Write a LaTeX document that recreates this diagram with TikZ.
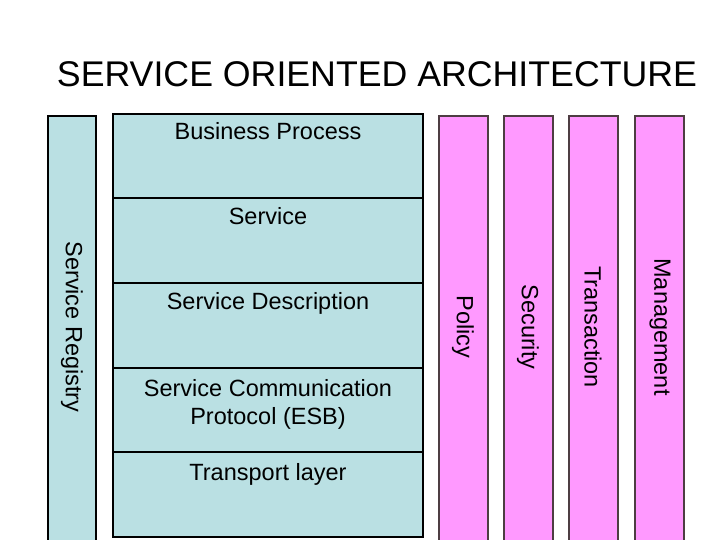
\documentclass[tikz,border=0pt]{standalone}
\usepackage{fontspec}
\setmainfont{Liberation Sans}
\definecolor{soablue}{RGB}{186,224,227}
\definecolor{soapink}{RGB}{255,153,255}

\begin{document}
\begin{tikzpicture}[x=1pt,y=-1pt,
  layer/.style={fill=soablue,draw=black,line width=1.2pt},
  side/.style={fill=soapink,draw=black!80!magenta,line width=1.2pt},
  lbl/.style={font=\fontsize{23.5}{28}\selectfont,align=center,inner sep=0pt},
  vlbl/.style={font=\fontsize{23.5}{28}\selectfont,rotate=-90,inner sep=0pt}]
  \useasboundingbox (0,0) rectangle (720,540);
  \clip (0,0) rectangle (720,540);

  % Title
  \node[font=\fontsize{35.7}{40}\selectfont,anchor=base,inner sep=0pt] (title) at (377,87) {SERVICE ORIENTED ARCHITECTURE};

  % Service registry column
  \draw[layer] (48,116) rectangle (96,560);
  \node[vlbl] (reg) at (72,327) {Service Registry};

  % Layer stack
  \draw[layer] (113,114) rectangle (423,198);
  \draw[layer] (113,198) rectangle (423,283);
  \draw[layer] (113,283) rectangle (423,368);
  \draw[layer] (113,368) rectangle (423,452);
  \draw[layer] (113,452) rectangle (423,537);
  \draw[line width=2pt] (113,368)--(423,368);

  \node[lbl,anchor=base] (bp)   at (268,140) {Business Process};
  \node[lbl,anchor=base] (srv)  at (268,225) {Service};
  \node[lbl,anchor=base] (desc) at (268,309) {Service Description};
  \node[lbl] (comm) at (268,404) {Service Communication\\Protocol (ESB)};
  \node[lbl,anchor=base] (trans) at (268,480) {Transport layer};

  % Cross-cutting columns
  \draw[side] (439,116) rectangle (488,560);
  \draw[side] (504,116) rectangle (553,560);
  \draw[side] (569,116) rectangle (618,560);
  \draw[side] (635,116) rectangle (684,560);

  \node[vlbl] (pol) at (463,327) {Policy};
  \node[vlbl] (sec) at (528,327) {Security};
  \node[vlbl] (tra) at (593,327) {Transaction};
  \node[vlbl] (man) at (660,327) {Management};

\end{tikzpicture}
\end{document}
